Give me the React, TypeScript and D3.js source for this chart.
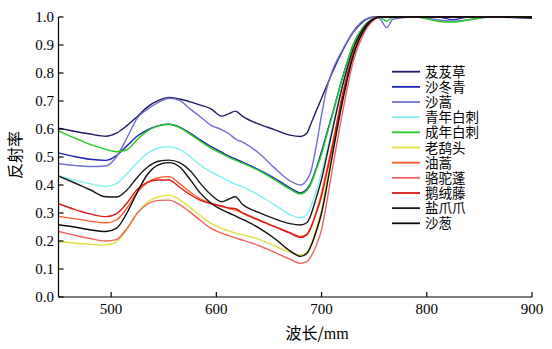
import React from "react";
import * as d3 from "d3";

const wavelengths = [450, 465, 480, 495, 505, 515, 525, 535, 545, 555, 565, 575, 585, 595, 605, 612, 618, 625, 640, 655, 670, 680, 686, 690, 695, 700, 705, 710, 720, 730, 740, 750, 755, 762, 768, 790, 810, 825, 840, 860, 900];

const seriesNames = ["芨芨草", "沙冬青", "沙蒿", "青年白刺", "成年白刺", "老鸹头", "油蒿", "骆驼蓬", "鹅绒藤", "盐爪爪", "沙葱"];
const seriesColors = ["#1c1c66", "#1e22b4", "#6f6fd2", "#80f0f0", "#22cc22", "#e2e040", "#ff5a28", "#ef6060", "#dd1a1a", "#1a1a1a", "#0c0c0c"];

const jijicao = [0.603, 0.592, 0.582, 0.574, 0.585, 0.612, 0.645, 0.68, 0.702, 0.713, 0.707, 0.697, 0.685, 0.672, 0.646, 0.655, 0.664, 0.645, 0.618, 0.598, 0.578, 0.573, 0.585, 0.62, 0.665, 0.71, 0.755, 0.8, 0.88, 0.945, 0.985, 1.0, 1.0, 1.0, 1.0, 1.0, 1.0, 1.0, 1.0, 1.0, 0.995];
const shadongqing = [0.515, 0.502, 0.492, 0.488, 0.505, 0.54, 0.575, 0.598, 0.612, 0.617, 0.607, 0.585, 0.56, 0.537, 0.517, 0.503, 0.493, 0.482, 0.455, 0.425, 0.39, 0.372, 0.385, 0.41, 0.46, 0.52, 0.585, 0.65, 0.785, 0.9, 0.965, 0.995, 1.0, 1.0, 1.0, 1.0, 1.0, 0.99, 1.0, 1.0, 1.0];
const shahao = [0.476, 0.47, 0.466, 0.468, 0.5, 0.568, 0.64, 0.672, 0.695, 0.71, 0.702, 0.672, 0.643, 0.613, 0.598, 0.583, 0.565, 0.553, 0.515, 0.462, 0.415, 0.4, 0.418, 0.45, 0.54, 0.65, 0.745, 0.805, 0.883, 0.948, 0.988, 1.0, 0.995, 0.962, 0.993, 1.0, 0.99, 0.985, 0.99, 1.0, 1.0];
const qingnianbaici = [0.432, 0.418, 0.405, 0.395, 0.405, 0.44, 0.48, 0.515, 0.532, 0.537, 0.527, 0.502, 0.47, 0.447, 0.427, 0.414, 0.403, 0.393, 0.365, 0.33, 0.295, 0.283, 0.295, 0.325, 0.38, 0.445, 0.52, 0.6, 0.76, 0.89, 0.96, 0.995, 1.0, 1.0, 1.0, 1.0, 1.0, 1.0, 1.0, 1.0, 1.0];
const chengnianbaici = [0.593, 0.568, 0.545, 0.527, 0.519, 0.526, 0.563, 0.594, 0.611, 0.617, 0.605, 0.582, 0.556, 0.532, 0.512, 0.499, 0.489, 0.478, 0.452, 0.42, 0.385, 0.368, 0.38, 0.405, 0.455, 0.51, 0.578, 0.645, 0.785, 0.9, 0.965, 0.995, 1.0, 0.985, 1.0, 1.0, 0.985, 0.982, 0.99, 1.0, 1.0];
const laoguatou = [0.198, 0.193, 0.188, 0.186, 0.197, 0.24, 0.3, 0.34, 0.358, 0.364, 0.348, 0.32, 0.29, 0.263, 0.245, 0.236, 0.228, 0.222, 0.207, 0.183, 0.16, 0.15, 0.16, 0.188, 0.245, 0.31, 0.41, 0.51, 0.71, 0.865, 0.952, 0.995, 1.0, 1.0, 1.0, 1.0, 1.0, 1.0, 1.0, 1.0, 1.0];
const youhao = [0.288, 0.28, 0.271, 0.265, 0.275, 0.317, 0.375, 0.41, 0.426, 0.43, 0.405, 0.375, 0.35, 0.335, 0.323, 0.316, 0.31, 0.3, 0.276, 0.252, 0.23, 0.216, 0.225, 0.252, 0.305, 0.37, 0.455, 0.54, 0.725, 0.87, 0.955, 0.995, 1.0, 1.0, 1.0, 1.0, 1.0, 1.0, 1.0, 1.0, 1.0];
const luotuopeng = [0.234, 0.221, 0.209, 0.2, 0.205, 0.245, 0.3, 0.333, 0.345, 0.346, 0.33, 0.303, 0.273, 0.245, 0.228, 0.219, 0.211, 0.203, 0.184, 0.16, 0.135, 0.12, 0.126, 0.145, 0.185, 0.24, 0.34, 0.45, 0.66, 0.84, 0.94, 0.99, 1.0, 1.0, 1.0, 1.0, 1.0, 1.0, 1.0, 1.0, 1.0];
const erongteng = [0.333, 0.313, 0.297, 0.287, 0.297, 0.335, 0.385, 0.41, 0.418, 0.418, 0.392, 0.366, 0.345, 0.333, 0.325, 0.318, 0.316, 0.3, 0.275, 0.252, 0.228, 0.213, 0.222, 0.248, 0.3, 0.36, 0.445, 0.53, 0.72, 0.865, 0.955, 0.995, 1.0, 1.0, 1.0, 1.0, 1.0, 1.0, 1.0, 1.0, 1.0];
const yanzhuazhua = [0.432, 0.408, 0.383, 0.358, 0.357, 0.382, 0.428, 0.465, 0.485, 0.489, 0.48, 0.452, 0.405, 0.365, 0.34, 0.35, 0.358, 0.33, 0.302, 0.28, 0.262, 0.257, 0.265, 0.295, 0.355, 0.42, 0.505, 0.59, 0.755, 0.885, 0.96, 0.995, 1.0, 1.0, 1.0, 1.0, 1.0, 1.0, 1.0, 1.0, 1.0];
const shacong = [0.258, 0.25, 0.24, 0.234, 0.245, 0.3, 0.375, 0.44, 0.472, 0.48, 0.465, 0.42, 0.37, 0.335, 0.312, 0.3, 0.29, 0.277, 0.248, 0.21, 0.165, 0.145, 0.155, 0.183, 0.235, 0.3, 0.395, 0.5, 0.7, 0.86, 0.95, 0.993, 1.0, 1.0, 1.0, 1.0, 1.0, 1.0, 1.0, 1.0, 1.0];

const seriesValues = [jijicao, shadongqing, shahao, qingnianbaici, chengnianbaici, laoguatou, youhao, luotuopeng, erongteng, yanzhuazhua, shacong];
const drawOrder = [0, 1, 2, 3, 4, 5, 6, 7, 8, 9, 10];

const xTicks = [500, 600, 700, 800, 900];
const yTicks = [0, 0.1, 0.2, 0.3, 0.4, 0.5, 0.6, 0.7, 0.8, 0.9, 1.0];

export default function App() {
  const W = 552, H = 349;
  const x = d3.scaleLinear().domain([450, 900]).range([58.5, 532]);
  const y = d3.scaleLinear().domain([0, 1]).range([297, 17]);
  const line = d3
    .line<number>()
    .x((_, i) => x(wavelengths[i]))
    .y((v) => y(Math.min(1, v)))
    .curve(d3.curveMonotoneX);
  const serif = "'Liberation Serif', 'DejaVu Serif', serif";
  const cjk = "'Noto Sans CJK SC', sans-serif";
  const legendFont = "'Liberation Serif', 'Noto Sans CJK SC', serif";
  const legX = 392, legY = 71.7, legStep = 15.16;
  return (
    <svg width={W} height={H} style={{ position: "absolute", left: 0, top: 0, background: "#fff" }}>
      <rect x={0} y={0} width={W} height={H} fill="#fff" />
      <g>
        {drawOrder.map((k) => (
          <path key={k} d={line(seriesValues[k]) || ""} fill="none" stroke={seriesColors[k]} strokeWidth={1.4} strokeLinejoin="round" />
        ))}
      </g>
      <g stroke="#000" strokeWidth={1.2}>
        <line x1={x(450)} x2={x(900)} y1={y(0)} y2={y(0)} />
        <line x1={x(450)} x2={x(450)} y1={y(0)} y2={y(1)} />
        {xTicks.map((t) => (
          <line key={t} x1={x(t)} x2={x(t)} y1={y(0)} y2={y(0) - 5} />
        ))}
        {yTicks.map((t) => (
          <line key={t} x1={x(450)} x2={x(450) + 5} y1={y(t)} y2={y(t)} />
        ))}
      </g>
      <g fontFamily={serif} fontSize={15} fill="#000">
        {xTicks.map((t) => (
          <text key={t} x={x(t)} y={314} textAnchor="middle">{t}</text>
        ))}
        {yTicks.map((t) => (
          <text key={t} x={54} y={y(t) + 5} textAnchor="end">{d3.format(".1f")(t)}</text>
        ))}
      </g>
      <text x={317} y={339} textAnchor="middle" fontSize={16} fontFamily={cjk}>
        波长/<tspan fontFamily={serif}>mm</tspan>
      </text>
      <text transform={`translate(21,155) rotate(-90)`} textAnchor="middle" fontSize={16} fontFamily={cjk}>反射率</text>
      <g>
        {seriesNames.map((n, i) => (
          <g key={n} transform={`translate(0,${legY + i * legStep})`}>
            <line x1={legX} x2={legX + 28} y1={0} y2={0} stroke={seriesColors[i]} strokeWidth={1.8} />
            <text x={legX + 33} y={5} fontSize={13.5} fontFamily={legendFont}>{n}</text>
          </g>
        ))}
      </g>
    </svg>
  );
}
